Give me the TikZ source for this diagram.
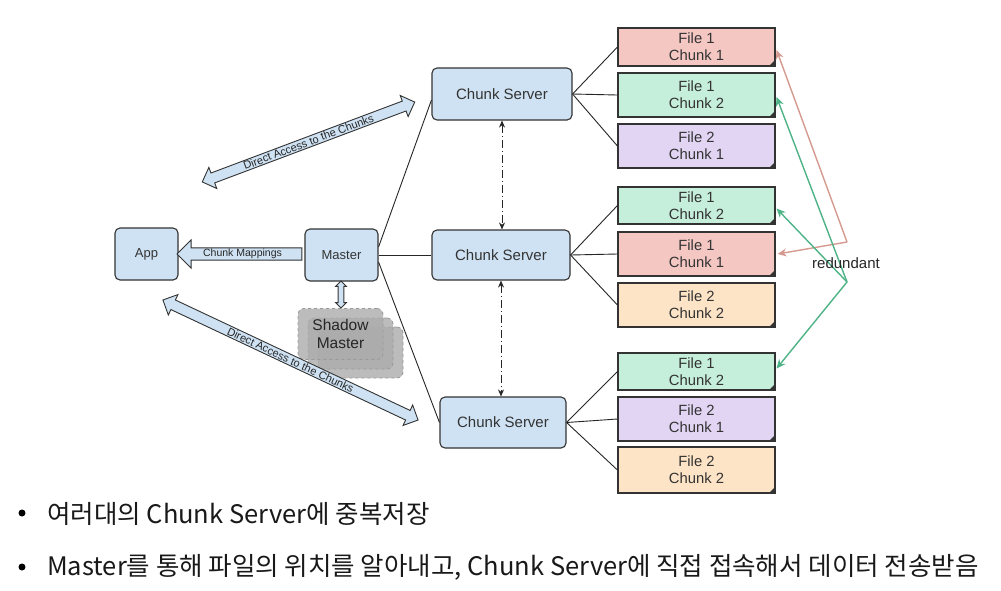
\documentclass[tikz,border=0pt]{standalone}
\usepackage{fontspec}
\setmainfont{Liberation Sans}
\newfontfamily\kr{Noto Sans CJK KR}
\usetikzlibrary{shapes.arrows,arrows.meta}
\definecolor{boxblue}{HTML}{CFE2F3}
\definecolor{edge}{HTML}{333333}
\definecolor{fred}{HTML}{F4C7C3}
\definecolor{fgreen}{HTML}{C6EFDB}
\definecolor{fpurple}{HTML}{E1D5F3}
\definecolor{forange}{HTML}{FDE4C6}
\definecolor{redarrow}{HTML}{D49A90}
\definecolor{greenarrow}{HTML}{4DB386}
\definecolor{shadowgray}{HTML}{ACACAC}
\begin{document}
\begin{tikzpicture}[x=1pt,y=-1pt,
  bluebox/.style={draw=edge, line width=1.1pt, fill=boxblue, rounded corners=5pt,
    font=\fontsize{13}{15}\selectfont, text=black!80, inner sep=0pt},
  csbox/.style={bluebox, font=\fontsize{15}{17}\selectfont},
  filebox/.style={draw=edge, line width=1.1pt, minimum width=157pt, align=center,
    font=\fontsize{14.8}{17}\selectfont, text=black!80, inner sep=0pt},
  link/.style={draw=black!85, line width=0.9pt},
  fat/.style={draw=edge, fill=boxblue, line width=0.9pt, inner sep=0.8pt,
    font=\fontsize{10.5}{10.5}\selectfont, text=black!85},
  shadowbox/.style={draw=gray!80, dashed, line width=0.8pt, fill=shadowgray, fill opacity=0.8,
    text opacity=1, rounded corners=6pt, minimum width=85pt, minimum height=51pt,
    align=center, font=\fontsize{15.5}{18}\selectfont, text=black!85},
  peer/.style={draw=black!85, line width=0.9pt, dash pattern=on 8pt off 3pt on 1pt off 3pt,
    {Stealth[length=7pt,width=6pt]}-{Stealth[length=7pt,width=6pt]}},
  redund/.style={line width=1.4pt, -{Stealth[length=9pt,width=8pt]}},
  bullettext/.style={anchor=base west, inner sep=0pt, font=\kr\fontsize{25.5}{28}\selectfont, text=black!90},
  bulletdot/.style={circle, fill=black, inner sep=0pt, minimum size=7pt}
]
\useasboundingbox (0,0) rectangle (1001,590);
\fill[white] (0,0) rectangle (1001,590);

% main boxes
\node[bluebox, minimum width=63pt, minimum height=52pt] (app) at (146.5,254) {App};
\node[bluebox, minimum width=73pt, minimum height=52pt] (master) at (341.5,255) {Master};
\node[csbox, minimum width=140pt, minimum height=52pt] (cs1) at (502,94) {Chunk Server};
\node[csbox, minimum width=138pt, minimum height=50pt] (cs2) at (501,255) {Chunk Server};
\node[csbox, minimum width=126pt, minimum height=51pt] (cs3) at (503,422.5) {Chunk Server};

% shadow masters
\node[shadowbox] (sh3) at (360.5,352.5) {};
\node[shadowbox] (sh2) at (350.5,343.5) {};
\node[shadowbox] (sh1) at (340.5,334) {Shadow\\Master};

% file chunks
\node[filebox, fill=fred, minimum height=38pt] (f1) at (696.5,47) {File 1\\Chunk 1};
\node[filebox, fill=fgreen, minimum height=44pt] (f2) at (696.5,95) {File 1\\Chunk 2};
\node[filebox, fill=fpurple, minimum height=44pt] (f3) at (696.5,146) {File 2\\Chunk 1};
\node[filebox, fill=fgreen, minimum height=37pt] (f4) at (696.5,205.5) {File 1\\Chunk 2};
\node[filebox, fill=fred, minimum height=44pt] (f5) at (696.5,254) {File 1\\Chunk 1};
\node[filebox, fill=forange, minimum height=44pt] (f6) at (696.5,305) {File 2\\Chunk 2};
\node[filebox, fill=fgreen, minimum height=37pt] (f7) at (696.5,371.5) {File 1\\Chunk 2};
\node[filebox, fill=fpurple, minimum height=44pt] (f8) at (696.5,419) {File 2\\Chunk 1};
\node[filebox, fill=forange, minimum height=46pt] (f9) at (696.5,470) {File 2\\Chunk 2};
\foreach \f in {f1,f2,f3,f4,f5,f6,f7,f8,f9}{
  \fill[edge] ([xshift=-7pt]\f.south east) -- ([yshift=7pt]\f.south east) -- (\f.south east) -- cycle;
}

% fat arrows
\node[fat, single arrow, shape border rotate=180, minimum height=125pt,
  single arrow head extend=8pt] (map) at (242.5,254) {Chunk Mappings};
\node[fat, double arrow, shape border rotate=90, minimum height=27pt, inner sep=2.4pt,
  double arrow head extend=2.5pt] (msh) at (341,294.5) {};
\node[fat, double arrow, rotate=20.6, minimum height=227pt, font=\fontsize{11}{11}\selectfont,
  double arrow head extend=6pt] (da1) at (308.5,142) {Direct Access to the Chunks};
\node[fat, double arrow, rotate=-25.2, minimum height=282pt, font=\fontsize{11}{11}\selectfont,
  double arrow head extend=6pt] (da2) at (290.5,360) {Direct Access to the Chunks};

% master to chunk servers
\draw[link] ([yshift=8pt]master.east) -- ([yshift=-6pt]cs1.west);
\draw[link] (master.east) -- (cs2.west);
\draw[link] ([yshift=-7pt]master.east) -- (cs3.west);

% chunk servers to files
\foreach \c/\a/\b/\d in {cs1/f1/f2/f3, cs2/f4/f5/f6, cs3/f7/f8/f9}{
  \draw[link] (\c.east) -- (\a.west);
  \draw[link] (\c.east) -- (\b.west);
  \draw[link] (\c.east) -- (\d.west);
}

% chunk server peers
\draw[peer] (cs1.south) -- (cs1.south |- cs2.north);
\draw[peer] (cs2.south) -- (cs2.south |- cs3.north);

% redundant
\coordinate (r1) at (847,242);
\coordinate (r2) at (847,282);
\draw[redund, redarrow] (r1) -- ([xshift=1pt,yshift=-3pt]f1.east);
\draw[redund, redarrow] (r1) -- ([xshift=2pt]f5.east);
\draw[redund, greenarrow] (r2) -- ([xshift=1pt,yshift=-2pt]f2.east);
\draw[redund, greenarrow] (r2) -- ([xshift=1pt,yshift=-3pt]f4.east);
\draw[redund, greenarrow] (r2) -- ([xshift=1pt,yshift=3pt]f7.east);
\node[font=\fontsize{15}{17}\selectfont, text=black!85] (red) at (846,263) {redundant};

% bullets
\node[bulletdot] (b1) at (22,513) {};
\node[bullettext] (t1) at (47,523) {여러대의 Chunk Server에 중복저장};
\node[bulletdot] (b2) at (22,567) {};
\node[bullettext] (t2) at (47,575) {Master를 통해 파일의 위치를 알아내고, Chunk Server에 직접 접속해서 데이터 전송받음};
\end{tikzpicture}
\end{document}
